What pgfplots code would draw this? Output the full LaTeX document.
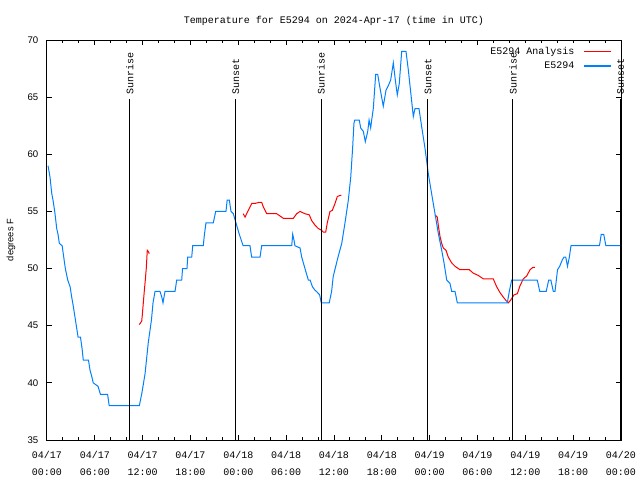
\documentclass[border=0pt]{standalone}
\usepackage{pgfplots}
\pgfplotsset{compat=1.18}
\usepackage{fontspec}
\setmainfont{Liberation Mono}
\newfontfamily\sansf{Liberation Sans}
\definecolor{obsblue}{RGB}{0,128,255}
\definecolor{anared}{RGB}{255,0,0}
\begin{document}
\begin{tikzpicture}[font=\fontsize{7.5pt}{12.8pt}\selectfont]
\path[use as bounding box] (-35.25pt,-30pt) rectangle (444.75pt,330pt);
\begin{axis}[
  at={(0,0)}, anchor=south west,
  scale only axis, width=430.5pt, height=300pt,
  xmin=0, xmax=72, ymin=35, ymax=70,
  axis line style={line width=0.75pt},
  xtick={0,6,...,72},
  xticklabels={{04/17\\00:00},{04/17\\06:00},{04/17\\12:00},{04/17\\18:00},{04/18\\00:00},{04/18\\06:00},{04/18\\12:00},{04/18\\18:00},{04/19\\00:00},{04/19\\06:00},{04/19\\12:00},{04/19\\18:00},{04/20\\00:00}},
  xticklabel style={align=center, yshift=-5pt},
  minor x tick num=2,
  ytick={35,40,...,70},
  yticklabel style={font=\sansf\fontsize{7.2pt}{9pt}\selectfont, xshift=-3pt},
  /pgf/number format/assume math mode=true,
  tick align=inside, tick pos=both,
  major tick length=3.5pt, minor tick length=2pt,
  every tick/.style={line width=0.75pt, black},
  ylabel={degrees F},
  ylabel style={font=\sansf\fontsize{7pt}{9pt}\selectfont, at={(axis description cs:-0.0627,0.5)}, anchor=center},
  title={Temperature for E5294 on 2024-Apr-17 (time in UTC)},
  title style={at={(axis description cs:0.5,1)}, anchor=base, yshift=6.5pt, inner sep=0pt},
  legend plot pos=right,
  legend cell align=right,
  legend style={draw=white, fill=white, at={(axis description cs:1,1)}, anchor=north east, xshift=-6pt, yshift=-2pt, row sep=0pt, inner sep=1pt, font=\fontsize{7.5pt}{9pt}\selectfont},
  unbounded coords=jump,
  clip=true,
]
\addplot[color=anared, line width=0.75pt, legend image code/.code={\path (0pt,0pt); \fill[fill=anared] (5pt,-0.3pt) rectangle (25pt,0.3pt);}] coordinates {
(11.58,45.1) (11.88,45.4) (11.95,45.9) (12.08,47) (12.2,48) (12.33,49) (12.45,50) (12.58,51.6) (12.7,51.5) (12.83,51.3)
(13,nan)
(24.62,54.8) (24.84,54.5) (25.25,55.1) (25.68,55.7) (26.09,55.7) (26.63,55.8) (26.93,55.8) (27.13,55.4) (27.56,54.8) (28.81,54.8) (29.23,54.6) (29.64,54.4) (30.9,54.4) (31.32,54.8) (31.74,55) (32.36,54.8) (32.9,54.7) (33.2,54.2) (33.62,53.8) (34.03,53.5) (34.33,53.4) (34.66,53.2) (34.96,53.2) (35.16,54) (35.5,55) (35.79,55.1) (36.13,55.7) (36.41,56.3) (36.75,56.4) (36.92,56.4)
(37,nan)
(48.67,54.7) (48.96,54.5) (49.08,53.8) (49.3,52.8) (49.51,52.2) (49.71,51.8) (50.05,51.6) (50.34,51) (50.76,50.5) (51.18,50.2) (51.8,49.9) (52.97,49.9) (53.47,49.6) (54.1,49.4) (54.73,49.1) (55.98,49.1) (56.41,48.4) (56.82,47.9) (57.24,47.5) (57.58,47.2) (57.87,47.0) (58.17,47.25) (58.58,47.7) (59.0,47.8) (59.33,48.5) (59.75,49.1) (60.17,49.35) (60.59,49.9) (60.93,50.1) (61.21,50.1)
};
\addlegendentry{E5294 Analysis}
\addplot[color=obsblue, line width=0.75pt, legend image code/.code={\path (0pt,0pt); \fill[fill=obsblue] (5pt,-0.3pt) rectangle (25pt,0.3pt);}] coordinates {
(0.13,59) (0.38,58) (0.59,56.6) (0.75,56) (0.97,55) (1.22,53.5) (1.38,53) (1.55,52.2) (1.9,52) (2.1,51) (2.3,50) (2.6,49) (2.9,48.4) (3.1,47.5) (3.3,46.7) (3.5,45.8) (3.7,44.9) (3.9,44) (4.2,44) (4.4,43) (4.55,42) (5.2,42) (5.4,41.1) (5.6,40.6) (5.8,40) (6.4,39.7) (6.7,39) (7.6,39) (7.8,38) (11.58,38) (11.9,39.1) (12.3,40.8) (12.7,43.5) (13.1,45.5) (13.3,47) (13.55,48) (14.17,48) (14.4,47.5) (14.55,47) (14.8,48) (16.06,48) (16.27,49) (16.9,49) (17.0,50) (17.56,50) (17.65,51) (18.15,51) (18.28,52) (19.6,52) (19.75,53) (19.94,54) (20.86,54) (21.16,55) (22.45,55) (22.6,56) (22.87,56) (23.08,55) (23.37,54.8) (23.7,54) (24.12,53) (24.6,52) (25.46,52) (25.67,51) (26.72,51) (26.93,52) (30.7,52) (30.82,53) (30.98,52.5) (31.1,52) (31.74,51.8) (31.95,51) (32.36,50) (32.78,49) (33.0,49) (33.3,48.4) (33.62,48.1) (33.8,48) (34.2,47.7) (34.4,47) (35.4,47) (35.7,48) (35.9,49.3) (36.5,51) (36.97,52.2) (37.38,54) (37.8,56) (38.1,58) (38.35,60.7) (38.5,62.7) (38.6,63) (39.17,63) (39.35,62.3) (39.68,62) (39.93,61.1) (40.23,62) (40.4,63) (40.6,62.3) (40.73,63) (40.93,64) (41.23,67) (41.48,67) (41.77,65.8) (42.18,64.2) (42.52,65.6) (42.81,66) (43.11,66.5) (43.44,68) (43.69,66.5) (43.94,65.2) (44.19,66.2) (44.49,69) (45.03,69) (45.32,67.4) (45.75,64.6) (45.95,63.3) (46.16,64) (46.66,64) (47.0,62.4) (47.42,60.5) (47.83,58.3) (48.26,56.5) (48.67,54.8) (49.08,53.1) (49.51,51.6) (49.8,50.5) (50.14,49) (50.55,48.7) (50.76,48) (51.18,48) (51.47,47) (57.74,47) (57.99,48) (58.29,49) (61.5,49) (61.81,48) (62.62,48) (62.93,49) (63.2,49) (63.51,48) (63.72,48) (64.04,49.9) (64.31,50.2) (64.63,50.75) (64.84,51) (65.07,51) (65.29,50.2) (65.52,51) (65.73,52) (69.3,52) (69.52,53) (69.83,53) (70.1,52) (72,52)
};
\addlegendentry{E5294}
\addplot[black, line width=0.75pt, forget plot] coordinates {(10.4,35) (10.4,64.8)};
\addplot[black, line width=0.75pt, forget plot] coordinates {(23.7,35) (23.7,64.8)};
\addplot[black, line width=0.75pt, forget plot] coordinates {(34.37,35) (34.37,64.8)};
\addplot[black, line width=0.75pt, forget plot] coordinates {(47.79,35) (47.79,64.8)};
\addplot[black, line width=0.75pt, forget plot] coordinates {(58.45,35) (58.45,64.8)};
\addplot[black, line width=0.75pt, forget plot] coordinates {(71.95,35) (71.95,64.8)};
\node[rotate=90, anchor=west, inner sep=0pt] at (axis cs:10.4,65.2) {Sunrise};
\node[rotate=90, anchor=west, inner sep=0pt] at (axis cs:23.7,65.2) {Sunset};
\node[rotate=90, anchor=west, inner sep=0pt] at (axis cs:34.37,65.2) {Sunrise};
\node[rotate=90, anchor=west, inner sep=0pt] at (axis cs:47.79,65.2) {Sunset};
\coordinate (srthree) at (axis cs:58.45,65.2);
\coordinate (sslast) at (axis cs:71.95,65.2);
\end{axis}
\node[rotate=90, anchor=west, inner sep=0pt] at (srthree) {Sunrise};
\node[rotate=90, anchor=west, inner sep=0pt] at (sslast) {Sunset};
\end{tikzpicture}
\end{document}
